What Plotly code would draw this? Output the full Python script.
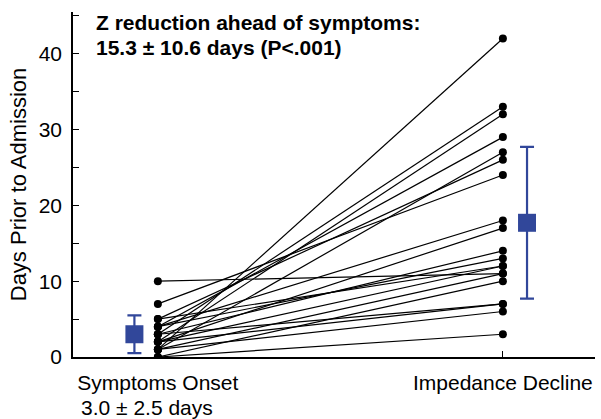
import plotly.graph_objects as go

# Days prior to admission for each patient (paired)
onset_days = [10, 7, 5, 5, 4, 4, 4, 3, 3, 3, 2, 2, 2, 2, 1, 1, 1, 1, 0, 0]
decline_days = [11, 24, 26, 12, 29, 18, 13, 33, 14, 7, 32, 17, 12, 7, 42, 27, 11, 6, 10, 3]

categories = ["Symptoms Onset", "Impedance Decline"]
cat_x = [0, 1]

# Group summaries (mean, SD)
onset_mean, onset_sd = 3.0, 2.5
decline_mean, decline_sd = 17.7, 10.0
diff_mean, diff_sd, p_text = 15.3, 10.6, "P<.001"

y_ticks = [0, 10, 20, 30, 40]

FONT = "Liberation Sans, Arial, Helvetica, sans-serif"
BLUE = "#31479a"

fig = go.Figure()

# paired lines, one segment per patient
xs, ys = [], []
for a, b in zip(onset_days, decline_days):
    xs += [cat_x[0], cat_x[1], None]
    ys += [a, b, None]
fig.add_trace(go.Scatter(
    x=xs, y=ys, mode="lines+markers",
    line=dict(color="black", width=1.2),
    marker=dict(color="black", size=8),
    showlegend=False, hoverinfo="skip",
))

# mean ± SD markers, offset beside each column
offset = [-0.068, 0.07]
fig.add_trace(go.Scatter(
    x=[cat_x[0] + offset[0], cat_x[1] + offset[1]],
    y=[onset_mean, decline_mean],
    mode="markers",
    marker=dict(symbol="square", size=18, color=BLUE),
    error_y=dict(type="data", array=[onset_sd, decline_sd], symmetric=True,
                 color=BLUE, thickness=2.2, width=7),
    showlegend=False,
))

# headline: difference between the two time points
head_font = dict(family=FONT, size=21, color="black")
fig.add_annotation(
    text="<b>Z reduction ahead of symptoms:</b>",
    xref="paper", yref="paper", x=0.04, y=(357 - 22) / 345, xanchor="left", yanchor="middle",
    showarrow=False, font=head_font,
)
fig.add_annotation(
    text=f"<b>{diff_mean} ± {diff_sd} days ({p_text})</b>",
    xref="paper", yref="paper", x=0.04, y=(357 - 47) / 345, xanchor="left", yanchor="middle",
    showarrow=False, font=head_font,
)

fig.add_annotation(
    text=f"{onset_mean:.1f} ± {onset_sd:.1f} days",
    xref="paper", yref="paper", x=0.012, y=(357 - 407) / 345, xanchor="left", yanchor="middle",
    showarrow=False, font=dict(family=FONT, size=21, color="black"),
)

fig.update_layout(
    width=601, height=419,
    margin=dict(l=73, r=6, t=12, b=62),
    paper_bgcolor="white", plot_bgcolor="white",
    font=dict(family=FONT, color="black"),
)

fig.update_xaxes(
    range=[-0.246, 1.267],
    tickvals=cat_x, ticktext=categories,
    ticks="inside", ticklen=6, tickcolor="black", tickwidth=1,
    showline=True, linecolor="black", linewidth=1.5,
    showgrid=False, zeroline=False,
    tickfont=dict(family=FONT, size=21),
    ticklabelstandoff=6,
)

fig.update_yaxes(
    range=[0, 45.5],
    tickvals=y_ticks,
    ticks="inside", ticklen=6, tickcolor="black", tickwidth=1,
    minor=dict(dtick=5, tick0=0, ticks="inside", ticklen=6, tickcolor="black", showgrid=False),
    showline=True, linecolor="black", linewidth=1.5,
    showgrid=False, zeroline=False,
    tickfont=dict(family=FONT, size=21),
    ticklabelstandoff=5,
    title=dict(text="Days Prior to Admission", font=dict(family=FONT, size=22), standoff=6),
)

fig.write_html("out.html")
